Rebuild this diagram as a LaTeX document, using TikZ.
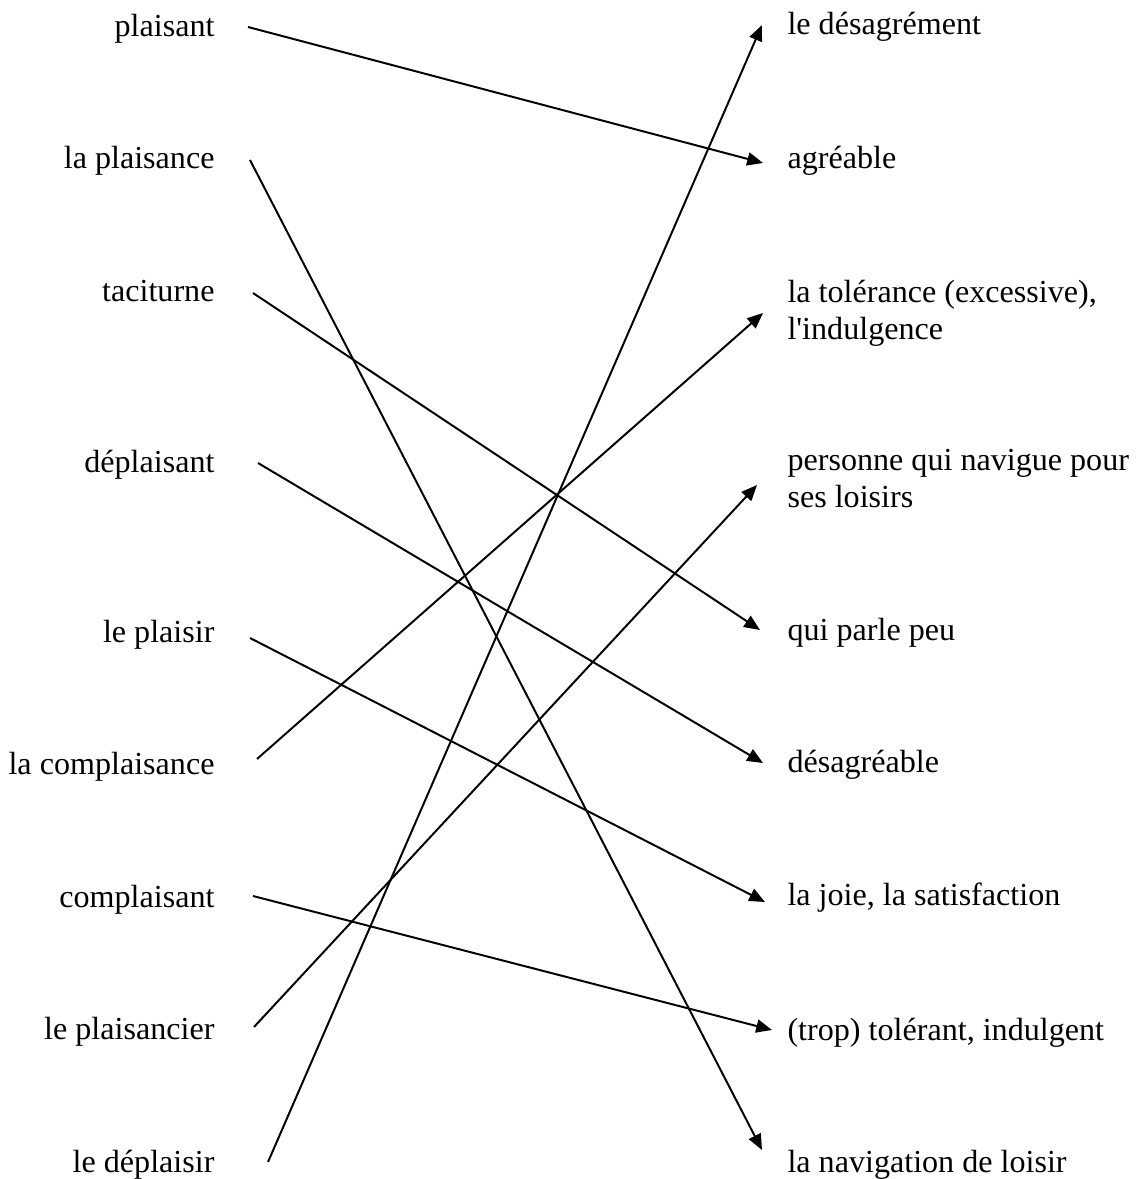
\documentclass[tikz,border=0pt]{standalone}
\usepackage{fontspec}
\setmainfont{Liberation Serif}
\usetikzlibrary{arrows.meta}

\begin{document}
\begin{tikzpicture}[x=0.38pt, y=-0.38pt,
    word/.style={font=\fontsize{12.2}{14}\selectfont, inner sep=0pt},
    lword/.style={word, anchor=base east},
    rword/.style={word, anchor=base west, align=left},
    link/.style={line width=0.75pt, -{Triangle[length=6pt, width=5pt]}}]
  % page
  \useasboundingbox (0,0) rectangle (1136,1179);

  % left column
  \node[lword] (l1) at (215,37)   {plaisant};
  \node[lword] (l2) at (215,169)  {la plaisance};
  \node[lword] (l3) at (215,302)  {taciturne};
  \node[lword] (l4) at (215,472)  {déplaisant};
  \node[lword] (l5) at (215,642)  {le plaisir};
  \node[lword] (l6) at (215,774)  {la complaisance};
  \node[lword] (l7) at (215,907)  {complaisant};
  \node[lword] (l8) at (215,1039) {le plaisancier};
  \node[lword] (l9) at (215,1172) {le déplaisir};

  % right column (two-line nodes sit on their last line)
  \node[rword] (r1) at (787,35)   {le désagrément};
  \node[rword] (r2) at (787,169)  {agréable};
  \node[rword] (r3) at (787,339)  {la tolérance (excessive),\\l\textquotesingle indulgence};
  \node[rword] (r4) at (787,507)  {personne qui navigue pour\\ses loisirs};
  \node[rword] (r5) at (787,640)  {qui parle peu};
  \node[rword] (r6) at (787,772)  {désagréable};
  \node[rword] (r7) at (787,905)  {la joie, la satisfaction};
  \node[rword] (r8) at (787,1040) {(trop) tolérant, indulgent};
  \node[rword] (r9) at (787,1172) {la navigation de loisir};

  % line ends
  \coordinate (a1) at (248,27);   \coordinate (b2) at (763,163);
  \coordinate (a2) at (250,160);  \coordinate (b9) at (762,1150);
  \coordinate (a3) at (253,293);  \coordinate (b5) at (760,630);
  \coordinate (a4) at (258,463);  \coordinate (b6) at (763,763);
  \coordinate (a5) at (250,638);  \coordinate (b7) at (765,902);
  \coordinate (a6) at (257,759);  \coordinate (b3) at (763,313);
  \coordinate (a7) at (253,896);  \coordinate (b8) at (772,1030);
  \coordinate (a8) at (254,1027); \coordinate (b4) at (757,485);
  \coordinate (a9) at (268,1162); \coordinate (b1) at (762,25);

  % matches
  \draw[link] (a1) -- (b2);
  \draw[link] (a2) -- (b9);
  \draw[link] (a3) -- (b5);
  \draw[link] (a4) -- (b6);
  \draw[link] (a5) -- (b7);
  \draw[link] (a6) -- (b3);
  \draw[link] (a7) -- (b8);
  \draw[link] (a8) -- (b4);
  \draw[link] (a9) -- (b1);
\end{tikzpicture}
\end{document}
